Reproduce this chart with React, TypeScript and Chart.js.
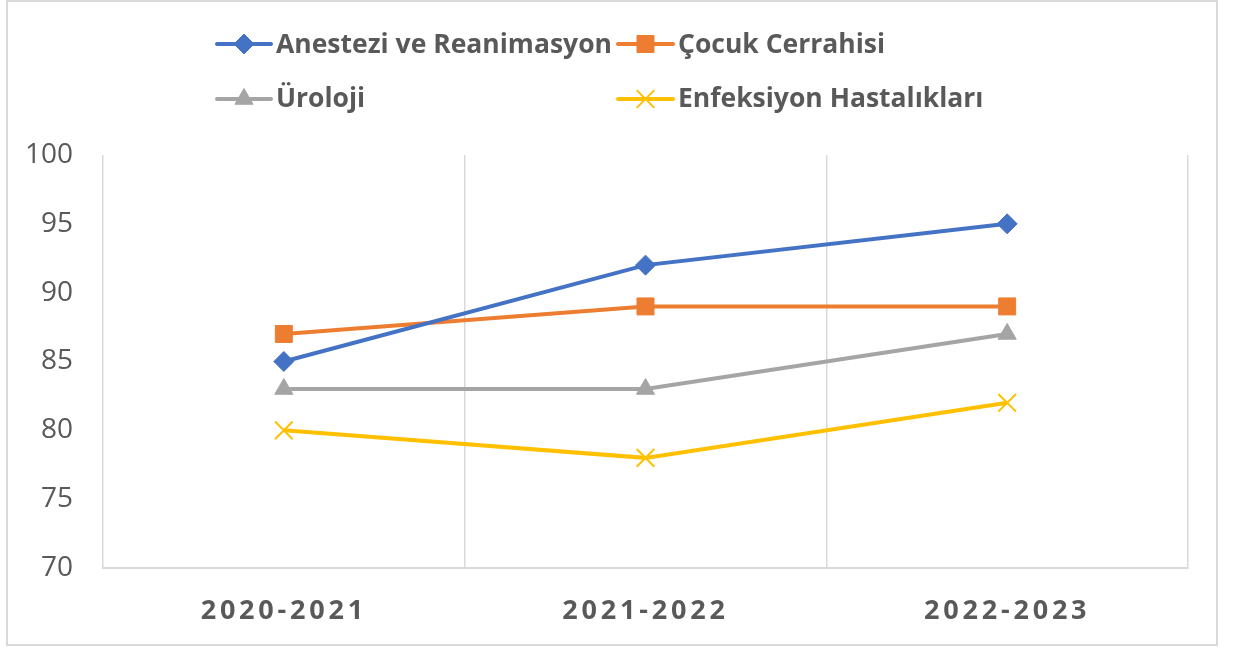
import React, { useEffect, useRef } from 'react';
import { Chart, registerables } from 'chart.js';
import { drawPoint } from 'chart.js/helpers';

Chart.register(...registerables);

const categories = ['2020-2021', '2021-2022', '2022-2023'];
const anestezi = [85, 92, 95];
const cocuk = [87, 89, 89];
const uroloji = [83, 83, 87];
const enfeksiyon = [80, 78, 82];
const seriesNames = ['Anestezi ve Reanimasyon', 'Çocuk Cerrahisi', 'Üroloji', 'Enfeksiyon Hastalıkları'];
const yMin = 70;
const yMax = 100;
const yStep = 5;

const TEXT = '#595959';
const GRID = '#d9d9d9';

const legendSlots = [
  { x0: 217, x1: 271, y: 44, tx: 276, ty: 53 },
  { x0: 618, x1: 673, y: 44, tx: 678, ty: 53 },
  { x0: 217, x1: 271, y: 99, tx: 276, ty: 107 },
  { x0: 618, x1: 673, y: 99, tx: 678, ty: 107 },
];

const framePlugin = {
  id: 'frame',
  beforeDraw(chart: any) {
    const ctx = chart.ctx;
    ctx.save();
    ctx.fillStyle = '#ffffff';
    ctx.fillRect(0, 0, chart.width, chart.height);
    ctx.strokeStyle = GRID;
    ctx.lineWidth = 2;
    ctx.strokeRect(7, 1, 1210, 644);
    ctx.restore();
  },
  afterDatasetsDraw(chart: any) {
    (chart.ctx as any).letterSpacing = '3.8px';
  },
  afterDraw(chart: any) {
    const ctx = chart.ctx;
    (ctx as any).letterSpacing = '0px';
    ctx.save();
    chart.data.datasets.forEach((ds: any, i: number) => {
      const s = legendSlots[i];
      if (!s) return;
      ctx.strokeStyle = ds.borderColor;
      ctx.lineWidth = 4;
      ctx.lineCap = 'round';
      ctx.beginPath();
      ctx.moveTo(s.x0, s.y);
      ctx.lineTo(s.x1, s.y);
      ctx.stroke();
      ctx.fillStyle = ds.pointBackgroundColor || ds.borderColor;
      ctx.strokeStyle = ds.pointBorderColor || ds.borderColor;
      ctx.lineWidth = ds.pointBorderWidth;
      ctx.lineCap = 'butt';
      drawPoint(ctx, { pointStyle: ds.pointStyle, radius: ds.pointRadius, borderWidth: ds.pointBorderWidth, rotation: 0 } as any, (s.x0 + s.x1) / 2, s.y);
      ctx.fillStyle = TEXT;
      ctx.font = 'bold 26.5px "Open Sans"';
      ctx.textAlign = 'left';
      ctx.textBaseline = 'alphabetic';
      ctx.fillText(ds.label, s.tx, s.ty);
    });
    ctx.restore();
  },
};

function mk(label: string, data: number[], color: string, style: string, radius: number, bw: number) {
  return {
    label,
    data,
    borderColor: color,
    backgroundColor: color,
    pointBackgroundColor: color,
    pointBorderColor: color,
    borderWidth: 4,
    pointStyle: style,
    pointRadius: radius,
    pointHoverRadius: radius,
    pointBorderWidth: bw,
    tension: 0,
  };
}

export default function App() {
  const ref = useRef<HTMLCanvasElement | null>(null);
  useEffect(() => {
    document.body.style.margin = '0';
    const canvas = ref.current!;
    const chart = new Chart(canvas, {
      type: 'line',
      data: {
        labels: categories,
        datasets: [
          mk(seriesNames[0], anestezi, '#4472C4', 'rectRot', 10, 1),
          mk(seriesNames[1], cocuk, '#ED7D31', 'rect', 12, 1),
          mk(seriesNames[2], uroloji, '#A5A5A5', 'triangle', 10.5, 1),
          mk(seriesNames[3], enfeksiyon, '#FFC000', 'crossRot', 12.5, 2),
        ],
      },
      options: {
        animation: false,
        responsive: false,
        devicePixelRatio: 1,
        layout: { padding: { left: 0, right: 46, top: 155, bottom: 10 } },
        plugins: { legend: { display: false }, tooltip: { enabled: false } },
        scales: {
          x: {
            offset: true,
            grid: { display: true, offset: true, color: GRID, lineWidth: 1.5, drawTicks: false },
            border: { display: true, color: GRID, width: 2 },
            ticks: { color: TEXT, font: { family: 'Open Sans', size: 27, weight: 'bold' }, padding: 27, z: 1 },
            afterFit: (s: any) => { s.height = 70; },
          },
          y: {
            min: yMin,
            max: yMax,
            grid: { display: false, drawTicks: false },
            border: { display: false },
            ticks: { stepSize: yStep, color: TEXT, font: { family: 'Open Sans', size: 28 }, padding: 30 },
            afterFit: (s: any) => { s.width = 103; },
          },
        },
      } as any,
      plugins: [framePlugin],
    });
    return () => chart.destroy();
  }, []);
  return (
    <div style={{ width: 1234, height: 648 }}>
      <canvas ref={ref} width={1234} height={648} style={{ display: 'block', width: 1234, height: 648 }} />
    </div>
  );
}
